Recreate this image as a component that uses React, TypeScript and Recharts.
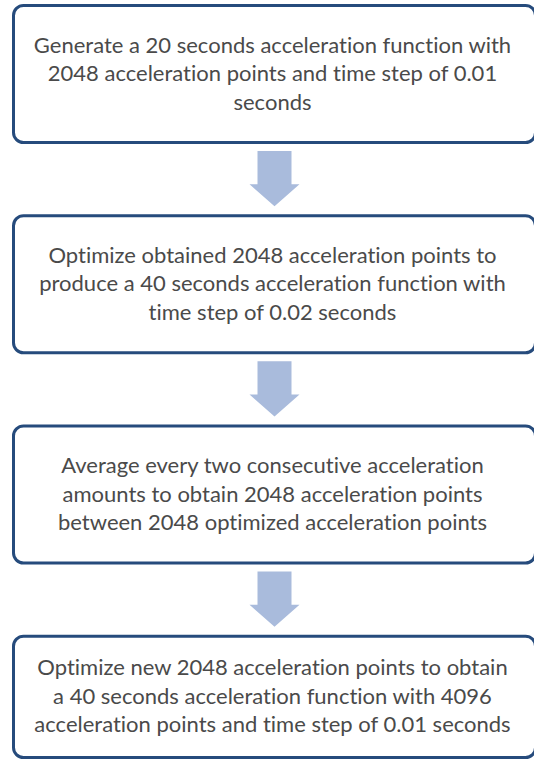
import { Bar, BarChart, XAxis, YAxis } from "recharts";

const steps = ["step1", "step2", "step3", "step4"];
const stepValues = [1, 1, 1, 1];
const stepLines = [
  [
    "Generate a 20 seconds acceleration function with",
    "2048 acceleration points and time step of 0.01",
    "seconds",
  ],
  [
    "Optimize obtained 2048 acceleration points to",
    "produce a 40 seconds acceleration function with",
    "time step of 0.02 seconds",
  ],
  [
    "Average every two consecutive acceleration",
    "amounts to obtain 2048 acceleration points",
    "between 2048 optimized acceleration points",
  ],
  [
    "Optimize new 2048 acceleration points to obtain",
    "a 40 seconds acceleration function with 4096",
    "acceleration points and time step of 0.01 seconds",
  ],
];

const CHART_W = 537;
const CHART_H = 841;
const SHIFT = 31; // chart is pulled up inside the clipped frame
const VIEW_H = 761;
const BAND = CHART_H / steps.length;

const data = steps.map((s, i) => ({ step: s, value: stepValues[i], lines: stepLines[i] }));

function StepBox(props: any) {
  const { x, y, width, height, index, payload } = props;
  const last = index === steps.length - 1;
  const bottom = last ? Math.min(y + height, VIEW_H + SHIFT - 2) : y + height;
  const cx = x + width / 2;
  const cy = (y + bottom) / 2;
  const lines: string[] = payload.lines;
  const lh = 28.5;

  let arrow = null;
  if (!last) {
    const top = bottom + 7;
    const tip = y + BAND - 8;
    const headStart = tip - 22;
    const pts = [
      [cx - 17, top],
      [cx + 17, top],
      [cx + 17, headStart],
      [cx + 25, headStart],
      [cx, tip],
      [cx - 25, headStart],
      [cx - 17, headStart],
    ]
      .map((p) => p.join(","))
      .join(" ");
    arrow = <polygon points={pts} fill="#A9BBDC" />;
  }

  return (
    <g>
      <rect
        x={x + 1.5}
        y={y + 1.5}
        width={width - 3}
        height={bottom - y - 3}
        rx={10}
        ry={10}
        fill="#fff"
        stroke="#264B7C"
        strokeWidth={3}
      />
      {lines.map((line, k) => {
        const base = cy + (k - (lines.length - 1) / 2) * lh + 7;
        return (
          <text
            key={k}
            x={cx - 2}
            y={base}
            textAnchor="middle"
            fontFamily="Lato, 'Open Sans', sans-serif"
            fontSize={22}
            fill="#4a4a4a"
            style={{ fontVariantLigatures: "none" }}
          >
            {line}
          </text>
        );
      })}
      {arrow}
    </g>
  );
}

export default function App() {
  return (
    <div style={{ width: 534, height: VIEW_H, overflow: "hidden", position: "relative", background: "#fff" }}>
      <style>{"body{margin:0}"}</style>
      <BarChart
        width={CHART_W}
        height={CHART_H}
        data={data}
        layout="vertical"
        margin={{ top: 0, right: 0, bottom: 0, left: 12 }}
        style={{ position: "absolute", top: -SHIFT, left: 0 }}
      >
        <XAxis type="number" domain={[0, 1]} hide />
        <YAxis type="category" dataKey="step" hide />
        <Bar dataKey="value" barSize={140} shape={<StepBox />} isAnimationActive={false} />
      </BarChart>
    </div>
  );
}
